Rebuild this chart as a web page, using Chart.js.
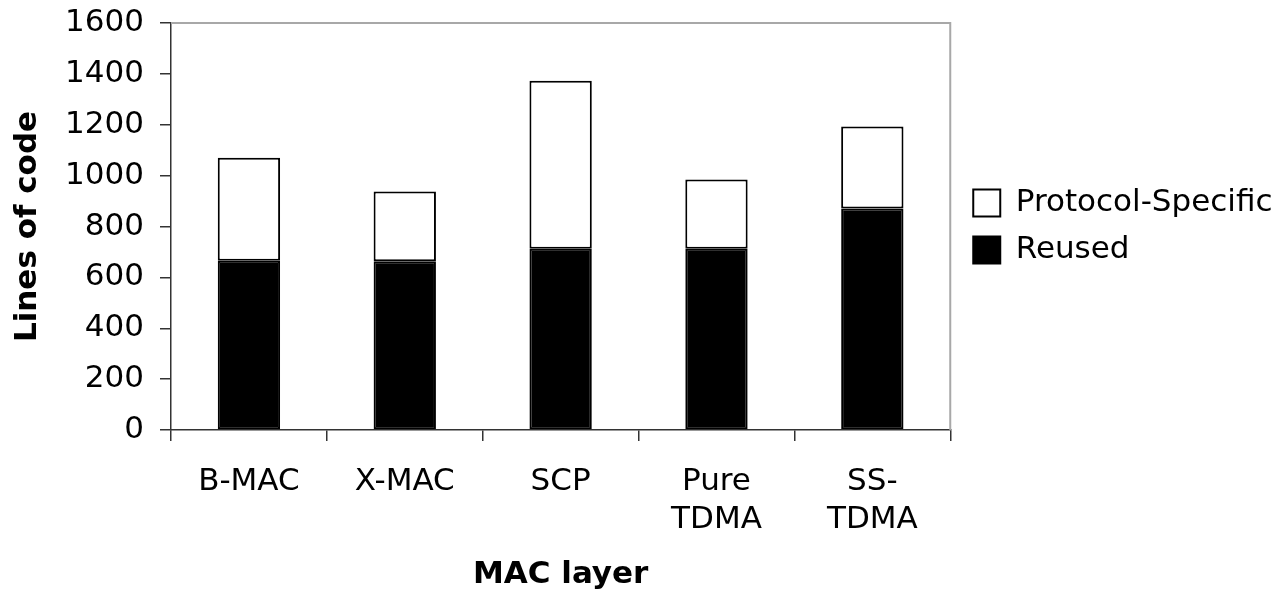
<!DOCTYPE html>
<html>
<head>
<meta charset="utf-8">
<script src="https://cdn.jsdelivr.net/npm/chart.js@4.4.1/dist/chart.umd.min.js"></script>
<style>
  html, body { margin: 0; padding: 0; background: #ffffff; }
  #wrap { width: 1287px; height: 592px; }
</style>
</head>
<body>
<div id="wrap"><canvas id="c" width="1287" height="592"></canvas></div>
<script>
const categories = ['B-MAC', 'X-MAC', 'SCP', ['Pure', 'TDMA'], ['SS-', 'TDMA']];
const reused = [665, 663, 713, 713, 871];
const protocolSpecific = [405, 275, 660, 272, 322];
const yTickValues = [0, 200, 400, 600, 800, 1000, 1200, 1400, 1600];

const FONT = "'DejaVu Sans', Verdana, sans-serif";
const AXIS_COLOR = '#333333';

const frameRightTop = {
  id: 'frameRightTop',
  afterDatasetsDraw(chart) {
    const { ctx, chartArea: a } = chart;
    ctx.save();
    ctx.strokeStyle = '#a8a8a8';
    ctx.lineWidth = 2;
    ctx.beginPath();
    ctx.moveTo(a.left, a.top);
    ctx.lineTo(a.right, a.top);
    ctx.lineTo(a.right, a.bottom);
    ctx.stroke();
    ctx.restore();
  }
};

const legendShift = {
  id: 'legendShift',
  afterLayout(chart) {
    if (chart.legend) {
      chart.legend.left += 7;
      chart.legend.right += 7;
    }
  }
};

new Chart(document.getElementById('c'), {
  type: 'bar',
  data: {
    labels: categories,
    datasets: [
      {
        label: 'Reused',
        data: reused,
        backgroundColor: '#000000',
        borderColor: '#000000',
        borderWidth: 2,
        borderSkipped: false
      },
      {
        label: 'Protocol-Specific',
        data: protocolSpecific,
        backgroundColor: '#ffffff',
        borderColor: '#000000',
        borderWidth: 2,
        borderSkipped: false
      }
    ]
  },
  options: {
    responsive: false,
    animation: false,
    devicePixelRatio: 1,
    layout: { padding: { left: 0, top: 23, right: 20, bottom: 0 } },
    datasets: { bar: { barPercentage: 0.4, categoryPercentage: 1.0 } },
    plugins: {
      tooltip: { enabled: false },
      legend: {
        position: 'right',
        fullSize: false,
        reverse: true,
        labels: {
          boxWidth: 27,
          boxHeight: 27,
          padding: 16,
          color: '#000000',
          font: { family: FONT, size: 31 }
        }
      }
    },
    scales: {
      x: {
        stacked: true,
        afterFit(s) { s.height = 162; s.paddingLeft = 0; s.paddingRight = 0; },
        grid: {
          display: true,
          offset: true,
          drawOnChartArea: false,
          drawTicks: true,
          tickLength: 11,
          color: AXIS_COLOR,
          lineWidth: 1.5
        },
        border: { display: true, color: AXIS_COLOR, width: 1.5 },
        ticks: {
          color: '#000000',
          padding: 22,
          maxRotation: 0,
          autoSkip: false,
          font: { family: FONT, size: 31, lineHeight: 1.226 }
        },
        title: {
          display: true,
          text: 'MAC layer',
          color: '#000000',
          padding: { top: 0, bottom: 0 },
          font: { family: FONT, size: 31, weight: 'bold', lineHeight: 1.1 }
        }
      },
      y: {
        stacked: true,
        min: 0,
        max: 1600,
        afterFit(s) { s.width = 171; s.paddingTop = 0; s.paddingBottom = 0; },
        afterBuildTicks(s) { s.ticks = yTickValues.map(v => ({ value: v })); },
        grid: {
          display: true,
          drawOnChartArea: false,
          drawTicks: true,
          tickLength: 11,
          color: AXIS_COLOR,
          lineWidth: 1.5
        },
        border: { display: true, color: AXIS_COLOR, width: 1.5 },
        ticks: {
          color: '#000000',
          padding: 16,
          font: { family: FONT, size: 31 },
          callback: (v) => String(v)
        },
        title: {
          display: true,
          text: 'Lines of code',
          color: '#000000',
          padding: { top: 11, bottom: 0 },
          font: { family: FONT, size: 31, weight: 'bold', lineHeight: 1.1 }
        }
      }
    }
  },
  plugins: [frameRightTop, legendShift]
});
</script>
</body>
</html>
